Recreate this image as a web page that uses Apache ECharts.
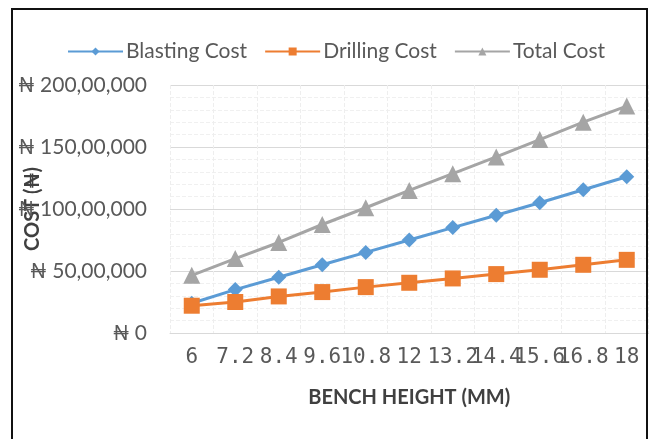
<!DOCTYPE html>
<html>
<head>
<meta charset="utf-8">
<script src="https://cdn.jsdelivr.net/npm/echarts@6/dist/echarts.min.js"></script>
<style>
  html, body { margin: 0; padding: 0; background: #fff; }
  #chart { width: 651px; height: 439px; }
</style>
</head>
<body>
<div id="chart"></div>
<script>
// Bench height categories (x axis)
const benchHeights = ['6', '7.2', '8.4', '9.6', '10.8', '12', '13.2', '14.4', '15.6', '16.8', '18'];

// Costs in naira
const blastingCost = [2400000, 3500000, 4500000, 5500000, 6500000, 7500000, 8500000, 9500000, 10500000, 11550000, 12600000];
const drillingCost = [2200000, 2500000, 2950000, 3300000, 3700000, 4050000, 4400000, 4750000, 5100000, 5500000, 5900000];
const totalCost    = [4650000, 6000000, 7300000, 8750000, 10100000, 11500000, 12850000, 14200000, 15600000, 17000000, 18300000];

// Y axis range / step
const yMin = 0;
const yMax = 20000000;
const yStep = 5000000;

// Naira with lakh-style grouping: last three digits, then two, then the rest (e.g. 200,00,000)
function naira(v) {
  if (v === 0) return '\u20A6 0';
  const s = String(Math.round(v));
  if (s.length <= 3) return '\u20A6 ' + s;
  const last3 = s.slice(-3);
  const mid = s.slice(-5, -3);
  const rest = s.slice(0, -5);
  return '\u20A6 ' + (rest ? rest + ',' : '') + mid + ',' + last3;
}

const FONT = 'Lato, "Open Sans", sans-serif';

const chart = echarts.init(document.getElementById('chart'), null, { renderer: 'canvas' });

chart.setOption({
  animation: false,
  backgroundColor: '#ffffff',
  graphic: [{
    type: 'polyline',
    shape: { points: [[12, 439], [12, 9], [647, 9], [647, 439]] },
    style: { stroke: '#111', lineWidth: 2, fill: null },
    z: 100
  }],
  legend: {
    left: 62,
    top: 36,
    itemWidth: 55,
    itemHeight: 10,
    itemGap: 17,
    textStyle: { fontFamily: FONT, fontSize: 21, color: '#595959', padding: [0, 0, 0, -2] },
    data: ['Blasting Cost', 'Drilling Cost', 'Total Cost']
  },
  grid: {
    left: 170,
    right: 2.5,
    top: 85,
    bottom: 106,
    containLabel: false
  },
  xAxis: {
    type: 'category',
    data: benchHeights,
    boundaryGap: true,
    name: 'BENCH HEIGHT (MM)',
    nameLocation: 'middle',
    nameGap: 55,
    nameMoveOverlap: false,
    nameTextStyle: { fontFamily: FONT, fontSize: 20, fontWeight: 'bold', color: '#404040' },
    axisLine: { show: true, lineStyle: { color: '#d9d9d9', width: 1 } },
    axisTick: { show: false },
    axisLabel: {
      interval: 0,
      margin: 14,
      hideOverlap: false,
      fontFamily: '"DejaVu Sans Mono", "Liberation Mono", monospace',
      fontSize: 21,
      color: '#595959'
    },
    splitLine: { show: true, lineStyle: { color: '#eeeeee', width: 1, type: 'dashed' } }
  },
  yAxis: {
    type: 'value',
    min: yMin,
    max: yMax,
    interval: yStep,
    name: 'COST (\u20A6)',
    nameLocation: 'middle',
    nameRotate: 90,
    nameGap: 127,
    nameMoveOverlap: false,
    nameTextStyle: { fontFamily: FONT, fontSize: 20, fontWeight: 'bold', color: '#404040' },
    axisLine: { show: false },
    axisTick: { show: false },
    axisLabel: {
      margin: 23,
      fontFamily: FONT,
      fontSize: 21,
      color: '#595959',
      formatter: naira
    },
    splitLine: { show: true, lineStyle: { color: '#d9d9d9', width: 1 } },
    minorTick: { show: false, splitNumber: 5 },
    minorSplitLine: { show: true, lineStyle: { color: '#f0f0f0', width: 1, type: 'dashed' } }
  },
  series: [
    {
      name: 'Blasting Cost',
      type: 'line',
      data: blastingCost,
      symbol: 'diamond',
      symbolSize: 15,
      itemStyle: { color: '#5B9BD5' },
      lineStyle: { color: '#5B9BD5', width: 3 },
      z: 3
    },
    {
      name: 'Drilling Cost',
      type: 'line',
      data: drillingCost,
      symbol: 'rect',
      symbolSize: 16,
      itemStyle: { color: '#ED7D31' },
      lineStyle: { color: '#ED7D31', width: 3 },
      z: 4
    },
    {
      name: 'Total Cost',
      type: 'line',
      data: totalCost,
      symbol: 'triangle',
      symbolSize: 17,
      itemStyle: { color: '#A5A5A5' },
      lineStyle: { color: '#A5A5A5', width: 3 },
      z: 2
    }
  ]
});
</script>
</body>
</html>
